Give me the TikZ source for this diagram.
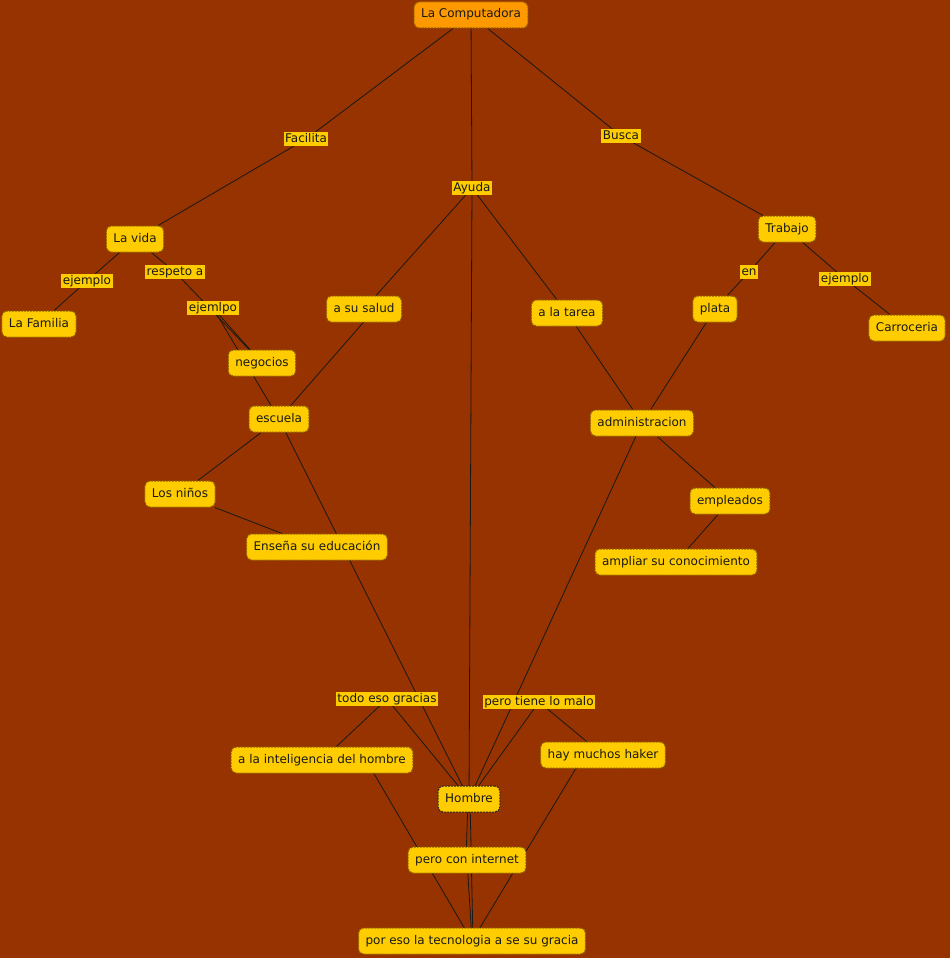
\documentclass[tikz,border=0pt]{standalone}
\usepackage{fontspec}
\setmainfont{DejaVu Sans}
\definecolor{bgc}{RGB}{150,51,0}
\definecolor{cfill}{RGB}{255,204,0}
\definecolor{tfill}{RGB}{255,153,0}
\definecolor{cbord}{RGB}{150,105,0}
\pgfdeclarelayer{bgl}
\pgfdeclarelayer{edges}
\pgfsetlayers{bgl,edges,main}
\tikzset{
  concept/.style={rounded corners=5pt, fill=cfill, draw=cbord, dash pattern=on 2pt off 1pt,
    line width=1pt, font=\fontsize{12}{14}\selectfont, text=black!90,
    inner xsep=7pt, inner ysep=0pt, minimum height=26pt, text height=9pt, text depth=3pt},
  linkp/.style={fill=cfill, inner xsep=1.5pt, inner ysep=1pt, text height=9pt, text depth=2.5pt,
    font=\fontsize{12}{14}\selectfont, text=black!90},
  conn/.style={draw=black!90, line width=0.8pt},
}
\begin{document}
\begin{tikzpicture}[x=1pt,y=-1pt]
\begin{pgfonlayer}{bgl}
\fill[bgc] (0,0) rectangle (950,958);
\end{pgfonlayer}
\useasboundingbox (0,0) rectangle (950,958);

% concepts
\node[concept, fill=tfill] (comp) at (471,15) {La Computadora};
\node[concept] (lavida) at (135,239) {La vida};
\node[concept] (familia) at (39,324) {La Familia};
\node[concept] (negocios) at (262,363) {negocios};
\node[concept] (salud) at (364,309) {a su salud};
\node[concept] (tarea) at (567,313) {a la tarea};
\node[concept] (plata) at (715,309) {plata};
\node[concept] (trabajo) at (787,229) {Trabajo};
\node[concept] (carro) at (907,328) {Carroceria};
\node[concept] (escuela) at (279,419) {escuela};
\node[concept] (admin) at (642,423) {administracion};
\node[concept] (ninos) at (180,494) {Los niños};
\node[concept] (empleados) at (730,501) {empleados};
\node[concept] (ensena) at (317,547) {Enseña su educación};
\node[concept] (ampliar) at (676,562) {ampliar su conocimiento};
\node[concept] (intel) at (322,760) {a la inteligencia del hombre};
\node[concept] (haker) at (603,755) {hay muchos haker};
\node[concept, draw=black!85] (hombre) at (469,799) {Hombre};
\node[concept] (internet) at (467,860) {pero con internet};
\node[concept] (poreso) at (472,941) {por eso la tecnologia a se su gracia};

% linking phrases
\node[linkp] (facilita) at (306,139) {Facilita};
\node[linkp] (busca) at (621,136) {Busca};
\node[linkp] (ayuda) at (472,188) {Ayuda};
\node[linkp] (ej1) at (87,281) {ejemplo};
\node[linkp] (respeto) at (175,272) {respeto a};
\node[linkp] (ejemlpo) at (213,308) {ejemlpo};
\node[linkp] (en) at (749,272) {en};
\node[linkp] (ej2) at (845,279) {ejemplo};
\node[linkp] (todo) at (387,699) {todo eso gracias};
\node[linkp] (pero) at (539,702) {pero tiene lo malo};

\begin{pgfonlayer}{edges}
\draw[conn] (comp) -- (facilita);
\draw[conn] (facilita) -- (lavida);
\draw[conn] (comp) -- (ayuda);
\draw[conn] (ayuda) -- (salud);
\draw[conn] (ayuda) -- (tarea);
\draw[conn] (ayuda.center) -- (hombre.center);
\draw[conn] (comp) -- (busca);
\draw[conn] (busca) -- (trabajo);
\draw[conn] (lavida) -- (ej1);
\draw[conn] (ej1) -- (familia);
\draw[conn] (lavida) -- (respeto);
\draw[conn] (respeto.center) -- (negocios.center);
\draw[conn] (ejemlpo.center) -- (negocios.center);
\draw[conn] (ejemlpo.center) -- (escuela.center);
\draw[conn] ([xshift=11pt]salud.center) -- (escuela.center);
\draw[conn] (escuela) -- (ninos);
\draw[conn] (escuela.center) -- (hombre.center);
\draw[conn] (ninos) -- (ensena);
\draw[conn] (tarea) -- (admin);
\draw[conn] (plata) -- (admin);
\draw[conn] (trabajo) -- (en);
\draw[conn] (en) -- (plata);
\draw[conn] (trabajo) -- (ej2);
\draw[conn] (ej2) -- (carro);
\draw[conn] (admin) -- (empleados);
\draw[conn] (empleados) -- (ampliar);
\draw[conn] (admin.center) -- (hombre.center);
\draw[conn] (hombre) -- (todo);
\draw[conn] (todo) -- (intel);
\draw[conn] (hombre) -- (pero);
\draw[conn] (pero) -- (haker);
\draw[conn] ([xshift=-1pt]hombre.center) -- ([xshift=-1pt]internet.center);
\draw[conn] ([xshift=1pt]hombre.center) -- ([xshift=1pt]poreso.center);
\draw[conn] (internet.center) -- (poreso.center);
\draw[conn] ([xshift=44pt]intel.center) -- (poreso.center);
\draw[conn] ([xshift=-19pt]haker.center) -- (poreso.center);
\end{pgfonlayer}
\end{tikzpicture}
\end{document}
